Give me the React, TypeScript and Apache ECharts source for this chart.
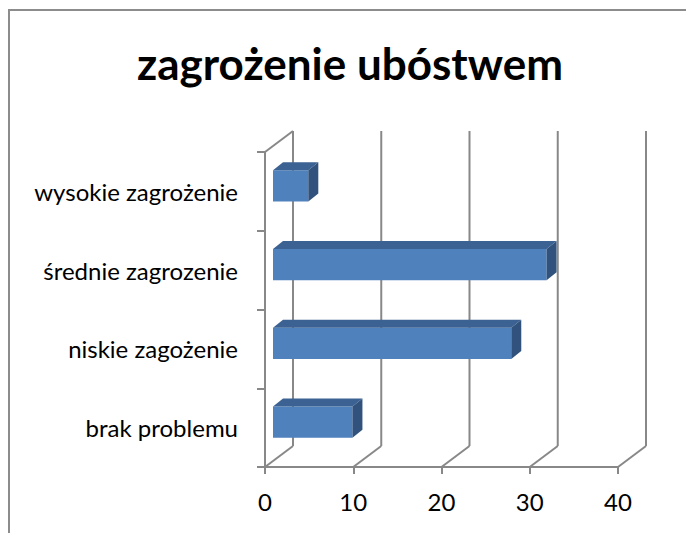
import React, { useEffect, useRef } from "react";
import * as echarts from "echarts";

const title = "zagrożenie ubóstwem";
const categories = ["brak problemu", "niskie zagożenie", "średnie zagrozenie", "wysokie zagrożenie"];
const values = [9, 27, 31, 4];
const xTicks = [0, 10, 20, 30, 40];

const GRID = "#888888";
const DEPTH_X = 28;
const DEPTH_Y = -21;

export default function App() {
  const ref = useRef<HTMLDivElement>(null);
  useEffect(() => {
    if (!ref.current) return;
    const chart = echarts.init(ref.current, null, { renderer: "svg" });
    chart.setOption({
      animation: false,
      backgroundColor: "#ffffff",
      textStyle: { fontFamily: "Lato" },
      graphic: [
        {
          type: "rect",
          shape: { x: 9, y: 10, width: 800, height: 700 },
          style: { fill: "none", stroke: "#8c8c8c", lineWidth: 2 },
          silent: true,
        },
        {
          type: "text",
          x: 350,
          y: 63,
          style: {
            text: title,
            fontFamily: "Lato",
            fontWeight: "bold",
            fontSize: 44,
            fill: "#000000",
            textAlign: "center",
            textVerticalAlign: "middle",
          },
        },
      ],
      grid: { left: 265, right: 68, top: 152, bottom: 66, containLabel: false },
      xAxis: {
        type: "value",
        min: 0,
        max: 40,
        interval: 10,
        axisLine: { show: true, lineStyle: { color: GRID, width: 2 } },
        axisTick: { show: true, length: 7, lineStyle: { color: GRID, width: 2 } },
        splitLine: { show: false },
        axisLabel: { fontFamily: "Lato", fontSize: 24, color: "#000", margin: 22 },
      },
      yAxis: {
        type: "category",
        data: categories,
        boundaryGap: true,
        axisLine: { show: true, lineStyle: { color: GRID, width: 2 } },
        axisTick: { show: true, length: 8, lineStyle: { color: GRID, width: 2 } },
        splitLine: { show: false },
        axisLabel: { fontFamily: "Lato", fontSize: 24, color: "#000", margin: 27 },
      },
      series: [
        {
          type: "custom",
          silent: true,
          z: 1,
          data: xTicks.map((v) => [v]),
          renderItem: (params: any, api: any) => {
            const cs = params.coordSys;
            const v = api.value(0);
            const x = api.coord([v, 0])[0];
            const bottom = cs.y + cs.height;
            const top = cs.y;
            const children: any[] = [
              {
                type: "line",
                shape: { x1: x, y1: bottom, x2: x + DEPTH_X, y2: bottom + DEPTH_Y },
                style: { stroke: GRID, lineWidth: 2 },
              },
              {
                type: "line",
                shape: { x1: x + DEPTH_X, y1: bottom + DEPTH_Y, x2: x + DEPTH_X, y2: top + DEPTH_Y },
                style: { stroke: GRID, lineWidth: 2 },
              },
            ];
            if (params.dataIndex === 0) {
              children.push({
                type: "line",
                shape: { x1: x, y1: top, x2: x + DEPTH_X, y2: top + DEPTH_Y },
                style: { stroke: GRID, lineWidth: 2 },
              });
            }
            return { type: "group", children };
          },
        },
        {
          type: "custom",
          z: 2,
          data: values.map((v, i) => [v, i]),
          renderItem: (params: any, api: any) => {
            const v = api.value(0);
            const idx = api.value(1);
            const p = api.coord([0, idx]);
            const q = api.coord([v, idx]);
            const band = api.size([0, 1])[1];
            const h = band * 0.395;
            const x0 = p[0] + 8;
            const x1 = q[0] + 8;
            const yc = p[1] - 5.5;
            const yt = yc - h / 2;
            const yb = yc + h / 2;
            const dx = 10;
            const dy = -8;
            return {
              type: "group",
              children: [
                {
                  type: "rect",
                  shape: { x: x0, y: yt, width: x1 - x0, height: h },
                  style: { fill: "#4f81bd" },
                },
                {
                  type: "polygon",
                  shape: { points: [[x0, yt], [x1, yt], [x1 + dx, yt + dy], [x0 + dx, yt + dy]] },
                  style: { fill: "#3b6292" },
                },
                {
                  type: "polygon",
                  shape: { points: [[x1, yt], [x1 + dx, yt + dy], [x1 + dx, yb + dy], [x1, yb]] },
                  style: { fill: "#30527d" },
                },
              ],
            };
          },
        },
      ],
    });
    return () => chart.dispose();
  }, []);
  return (
    <div
      ref={ref}
      style={{ position: "fixed", left: 0, top: 0, width: 686, height: 533 }}
    />
  );
}
